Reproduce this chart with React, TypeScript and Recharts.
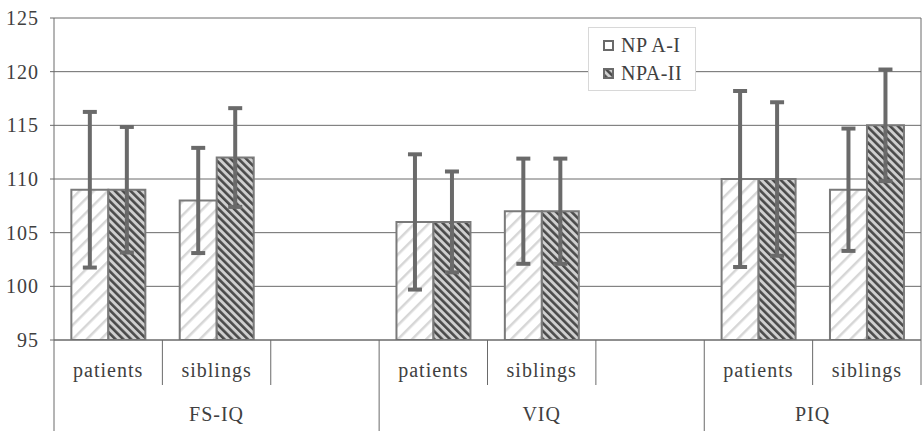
import React from 'react';
import { BarChart, Bar, XAxis, YAxis, CartesianGrid, ErrorBar, Legend } from 'recharts';

const categories = ['patients', 'siblings', '', 'patients', 'siblings', '', 'patients', 'siblings'];
const groups = ['FS-IQ', 'FS-IQ', 'FS-IQ', 'VIQ', 'VIQ', 'VIQ', 'PIQ', 'PIQ'];
const npa1 = [109, 108, null, 106, 107, null, 110, 109];
const npa1Err = [7.25, 4.9, null, 6.3, 4.9, null, 8.2, 5.7];
const npa2 = [109, 112, null, 106, 107, null, 110, 115];
const npa2Err = [5.85, 4.6, null, 4.7, 4.9, null, 7.15, 5.2];
const yTicks = [95, 100, 105, 110, 115, 120, 125];
const seriesNames = ['NP A-I', 'NPA-II'];

const data = categories.map((cat, i) => ({
  cat,
  group: groups[i],
  a: npa1[i],
  ea: npa1Err[i],
  b: npa2[i],
  eb: npa2Err[i],
}));

const FONT = "'Liberation Serif', 'DejaVu Serif', serif";
const TEXT = '#404040';
const LINE = '#6a6a6a';

const CatTick = (props: any) => {
  const { x, y, payload, index, width, visibleTicksCount } = props;
  const band = width / visibleTicksCount;
  const left = x - band / 2;
  const right = x + band / 2;
  const row = data[index];
  const isGroupStart = index === 0 || data[index - 1].group !== row.group;
  const groupSize = data.filter((d) => d.group === row.group).length;
  const isLast = index === data.length - 1;
  return (
    <g>
      <text x={x} y={y + 37} textAnchor="middle" fill={TEXT} fontSize={20} fontFamily={FONT} letterSpacing={1}>
        {payload.value}
      </text>
      <line x1={left} x2={left} y1={y} y2={isGroupStart ? y + 91 : y + 45} stroke={LINE} strokeWidth={1} />
      {isLast && <line x1={right} x2={right} y1={y} y2={y + 45} stroke={LINE} strokeWidth={1} />}
      {isGroupStart && (
        <text x={left + (groupSize * band) / 2} y={y + 81} textAnchor="middle" fill={TEXT} fontSize={20} fontFamily={FONT} letterSpacing={1}>
          {row.group}
        </text>
      )}
    </g>
  );
};

const LegendBox = () => (
  <div
    style={{
      width: 106,
      height: 59,
      border: '1px solid #d8d8d8',
      background: '#fff',
      fontFamily: FONT,
      fontSize: 20,
      color: TEXT,
      boxSizing: 'content-box',
      paddingTop: 3,
    }}
  >
    {seriesNames.map((name, i) => (
      <div key={name} style={{ display: 'flex', alignItems: 'center', height: 28, paddingLeft: 14 }}>
        <svg width={11} height={11} style={{ marginRight: 7 }}>
          <rect x={1} y={1} width={9} height={9} fill={i === 0 ? '#fff' : 'url(#patB)'} stroke={LINE} strokeWidth={2} />
        </svg>
        <span style={{ letterSpacing: 0.5 }}>{name}</span>
      </div>
    ))}
  </div>
);

export default function App() {
  return (
    <div style={{ position: 'absolute', left: 0, top: 0, background: '#fff' }}>
      <BarChart
        width={923}
        height={431}
        data={data}
        margin={{ top: 18, right: 0, bottom: 0, left: 0 }}
        barCategoryGap="16%"
        barGap={0}
      >
        <defs>
          <pattern id="patA" patternUnits="userSpaceOnUse" width={10} height={10} patternTransform="rotate(45)">
            <rect width={10} height={10} fill="#ffffff" />
            <rect x={0} y={0} width={2.5} height={10} fill="#d6d6d6" />
          </pattern>
          <pattern id="patB" patternUnits="userSpaceOnUse" width={5.5} height={5.5} patternTransform="rotate(-45)">
            <rect width={5.5} height={5.5} fill="#cfcfcf" />
            <rect x={0} y={0} width={2.6} height={5.5} fill="#4a4a4a" />
          </pattern>
        </defs>
        <CartesianGrid vertical={false} stroke={LINE} strokeWidth={1} />
        <XAxis
          dataKey="cat"
          height={91}
          interval={0}
          tickLine={false}
          tickSize={0}
          tickMargin={0}
          axisLine={{ stroke: LINE, strokeWidth: 1 }}
          tick={<CatTick />}
        />
        <YAxis
          width={54}
          domain={[95, 125]}
          ticks={yTicks}
          allowDataOverflow
          tickSize={4}
          tickMargin={11}
          axisLine={{ stroke: LINE, strokeWidth: 1 }}
          tickLine={{ stroke: LINE, strokeWidth: 1 }}
          tick={{ fill: TEXT, fontSize: 20, fontFamily: FONT, letterSpacing: 1 }}
        />
        <YAxis
          yAxisId="right"
          orientation="right"
          width={2}
          domain={[95, 125]}
          tick={false}
          tickLine={false}
          axisLine={{ stroke: LINE, strokeWidth: 1 }}
        />
        <Legend
          layout="horizontal"
          verticalAlign="middle"
          align="center"
          content={<LegendBox />}
          wrapperStyle={{ position: 'absolute', left: 588, top: 27, width: 108, height: 63 }}
        />
        <Bar dataKey="a" name={seriesNames[0]} fill="url(#patA)" stroke="#7a7a7a" strokeWidth={2} isAnimationActive={false}>
          <ErrorBar dataKey="ea" width={7} strokeWidth={4} stroke="#6a6a6a" isAnimationActive={false} />
        </Bar>
        <Bar dataKey="b" name={seriesNames[1]} fill="url(#patB)" stroke="#7a7a7a" strokeWidth={2} isAnimationActive={false}>
          <ErrorBar dataKey="eb" width={7} strokeWidth={4} stroke="#6a6a6a" isAnimationActive={false} />
        </Bar>
      </BarChart>
    </div>
  );
}
